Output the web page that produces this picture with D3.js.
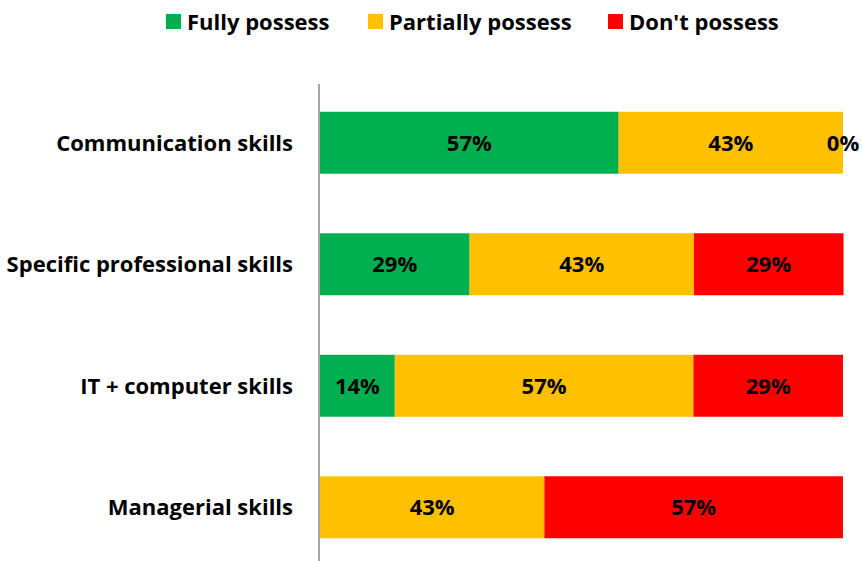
<!DOCTYPE html>
<html lang="en">

<head>
	<meta charset="UTF-8">
	<title>skills stacked bars</title>
	<script src="https://cdn.jsdelivr.net/npm/d3@7/dist/d3.min.js" charset="UTF-8"></script>
	<style>
		body { margin: 0; background: #fff; }
		text { font-family: "Open Sans", Lato, sans-serif; font-weight: bold; }
	</style>
</head>

<body>
	<div id="chart"></div>

	<script type="text/javascript">
	let categories = ['Communication skills', 'Specific professional skills', 'IT + computer skills', 'Managerial skills'];
	let seriesNames = ['Fully possess', 'Partially possess', "Don't possess"];
	let fully = [57.1, 28.6, 14.3, 0];
	let partially = [42.9, 42.9, 57.1, 42.9];
	let dont = [0, 28.6, 28.6, 57.1];
	// zero labels shown only where the source shows them
	let showZero = ['Communication skills'];
	let colors = ['#00B050', '#FFC000', '#FF0000'];

	let width = 862,
		height = 561,
		fontSize = '22px';

	let svg = d3.select('#chart')
		.append('svg')
		.attr('width', width)
		.attr('height', height);

	let rows = categories.map((c, i) => ({
		cat: c,
		'Fully possess': fully[i],
		'Partially possess': partially[i],
		"Don't possess": dont[i]
	}));
	let stacked = d3.stack().keys(seriesNames)(rows);

	let x = d3.scaleLinear().domain([0, 100]).range([320, 843]);
	let y = d3.scaleBand().domain(categories).range([82, 568])
		.paddingInner(0.49).paddingOuter(0.245);

	let layers = svg.selectAll('g.layer').data(stacked).enter()
		.append('g')
		.attr('class', 'layer')
		.attr('fill', (d, i) => colors[i]);

	layers.selectAll('rect').data(d => d).enter()
		.append('rect')
		.attr('x', d => x(d[0]))
		.attr('y', d => y(d.data.cat))
		.attr('width', d => x(d[1]) - x(d[0]))
		.attr('height', y.bandwidth());

	layers.selectAll('text').data(d => d.map(p => ({ p: p, key: d.key }))).enter()
		.filter(d => d.p.data[d.key] > 0 || showZero.includes(d.p.data.cat))
		.append('text')
		.attr('fill', '#000')
		.attr('font-size', fontSize)
		.attr('text-anchor', 'middle')
		.attr('x', d => x((d.p[0] + d.p[1]) / 2))
		.attr('y', d => y(d.p.data.cat) + y.bandwidth() / 2)
		.attr('dy', '0.36em')
		.text(d => Math.round(d.p.data[d.key]) + '%');

	// category labels
	svg.selectAll('text.cat').data(categories).enter()
		.append('text')
		.attr('class', 'cat')
		.attr('fill', '#000')
		.attr('font-size', fontSize)
		.attr('text-anchor', 'end')
		.attr('x', 293)
		.attr('y', d => y(d) + y.bandwidth() / 2)
		.attr('dy', '0.36em')
		.text(d => d);

	// vertical axis line
	svg.append('line')
		.attr('x1', 319).attr('x2', 319)
		.attr('y1', 84).attr('y2', height)
		.attr('stroke', '#A6A6A6')
		.attr('stroke-width', 2);

	// legend
	let legendX = [166, 368, 608];
	let legend = svg.selectAll('g.legend').data(seriesNames).enter()
		.append('g')
		.attr('class', 'legend')
		.attr('transform', (d, i) => 'translate(' + legendX[i] + ',14)');
	legend.append('rect')
		.attr('width', 15).attr('height', 15)
		.attr('fill', (d, i) => colors[i]);
	legend.append('text')
		.attr('x', 21)
		.attr('y', 8)
		.attr('dy', '0.36em')
		.attr('font-size', fontSize)
		.attr('fill', '#000')
		.text(d => d);
	</script>
</body>

</html>
